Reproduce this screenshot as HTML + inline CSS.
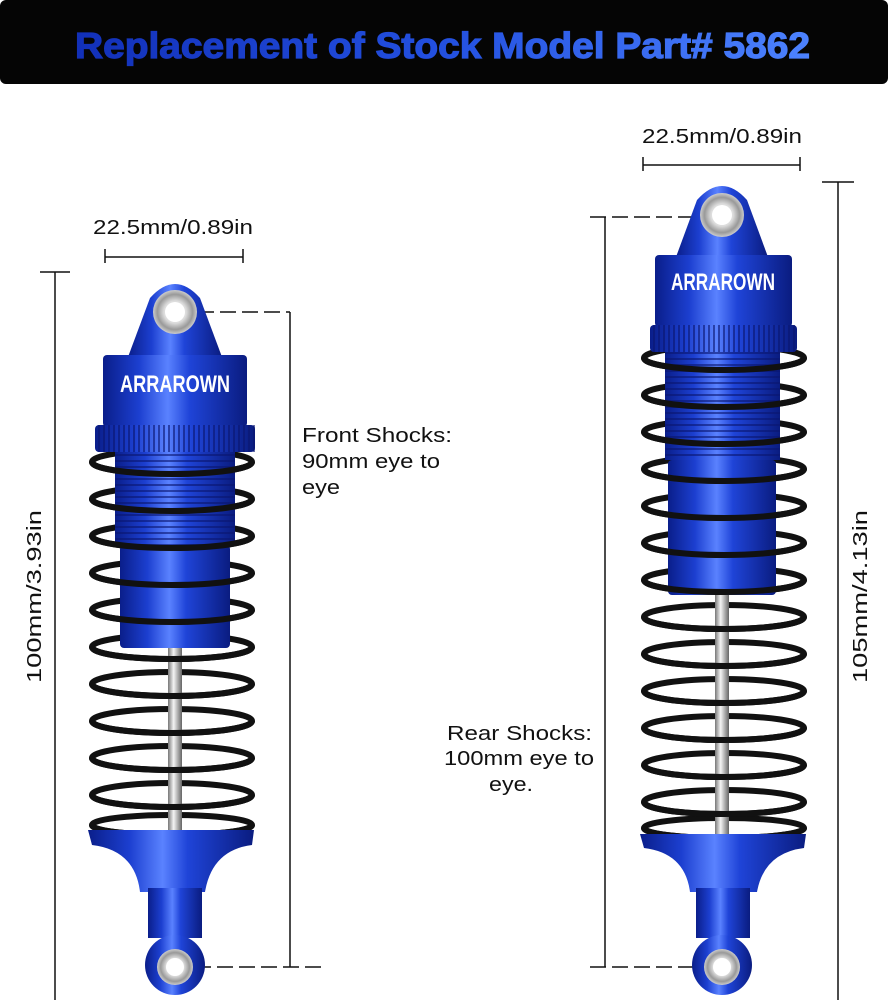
<!DOCTYPE html>
<html><head><meta charset="utf-8"><style>
html,body{margin:0;padding:0;background:#fff;}
svg{display:block;}
text{font-family:"Liberation Sans",sans-serif;}
</style></head><body>
<svg width="888" height="1000" viewBox="0 0 888 1000" xmlns="http://www.w3.org/2000/svg">
<defs>
<linearGradient id="hdr" x1="0" x2="1"><stop offset="0" stop-color="#1230b8"/><stop offset="0.5" stop-color="#2350e0"/><stop offset="1" stop-color="#4c82ff"/></linearGradient>
<linearGradient id="blu" x1="0" x2="1"><stop offset="0" stop-color="#0a1e8a"/><stop offset="0.25" stop-color="#1c3fd0"/><stop offset="0.45" stop-color="#5a82ff"/><stop offset="0.6" stop-color="#1f44d8"/><stop offset="1" stop-color="#0a1c80"/></linearGradient>
<linearGradient id="rod" x1="0" x2="1"><stop offset="0" stop-color="#777"/><stop offset="0.4" stop-color="#f4f4f4"/><stop offset="1" stop-color="#666"/></linearGradient>
<radialGradient id="sil"><stop offset="0.5" stop-color="#ddd"/><stop offset="0.8" stop-color="#999"/><stop offset="1" stop-color="#ccc"/></radialGradient>
<pattern id="thr" width="6" height="6" patternUnits="userSpaceOnUse"><rect y="4" width="6" height="2" fill="#0a1570" opacity="0.6"/></pattern>
<pattern id="knl" width="5" height="5" patternUnits="userSpaceOnUse"><rect x="3" width="2" height="5" fill="#0a1570" opacity="0.6"/></pattern>
</defs>
<rect x="0" y="0" width="888" height="84" rx="6" fill="#050505"/>
<text x="75" y="58" font-size="36" font-weight="bold" fill="url(#hdr)" stroke="url(#hdr)" stroke-width="1.2" textLength="735" lengthAdjust="spacingAndGlyphs">Replacement of Stock Model Part# 5862</text>

<!-- LEFT dims -->
<g stroke="#111" stroke-width="1.5" fill="none">
<line x1="105" y1="257" x2="243" y2="257"/><line x1="105" y1="249" x2="105" y2="263"/><line x1="243" y1="249" x2="243" y2="263"/>
<line x1="55" y1="272" x2="55" y2="1000"/><line x1="40" y1="272" x2="70" y2="272"/>
<line x1="290" y1="312" x2="290" y2="967"/>
<line x1="198" y1="312" x2="290" y2="312" stroke-dasharray="16,6"/>
<line x1="195" y1="967" x2="325" y2="967" stroke-dasharray="16,6"/>
</g>
<text x="93" y="234" font-size="20" fill="#111" textLength="160" lengthAdjust="spacingAndGlyphs">22.5mm/0.89in</text>
<text transform="translate(41,683) rotate(-90)" font-size="20" fill="#111" textLength="173" lengthAdjust="spacingAndGlyphs">100mm/3.93in</text>
<text x="302" y="442" font-size="20" fill="#111" textLength="150" lengthAdjust="spacingAndGlyphs">Front Shocks:</text>
<text x="302" y="468" font-size="20" fill="#111" textLength="138" lengthAdjust="spacingAndGlyphs">90mm eye to</text>
<text x="302" y="494" font-size="20" fill="#111" textLength="38" lengthAdjust="spacingAndGlyphs">eye</text>

<!-- RIGHT dims -->
<g stroke="#111" stroke-width="1.5" fill="none">
<line x1="643" y1="165" x2="800" y2="165"/><line x1="643" y1="157" x2="643" y2="171"/><line x1="800" y1="157" x2="800" y2="171"/>
<line x1="838" y1="182" x2="838" y2="1000"/><line x1="822" y1="182" x2="854" y2="182"/>
<line x1="605" y1="217" x2="605" y2="967"/>
<line x1="590" y1="217" x2="700" y2="217" stroke-dasharray="16,6"/>
<line x1="590" y1="967" x2="700" y2="967" stroke-dasharray="16,6"/>
</g>
<text x="642" y="143" font-size="20" fill="#111" textLength="160" lengthAdjust="spacingAndGlyphs">22.5mm/0.89in</text>
<text transform="translate(867,683) rotate(-90)" font-size="20" fill="#111" textLength="173" lengthAdjust="spacingAndGlyphs">105mm/4.13in</text>
<text x="447" y="740" font-size="20" fill="#111" textLength="145" lengthAdjust="spacingAndGlyphs">Rear Shocks:</text>
<text x="444" y="765" font-size="20" fill="#111" textLength="150" lengthAdjust="spacingAndGlyphs">100mm eye to</text>
<text x="489" y="791" font-size="20" fill="#111" textLength="44" lengthAdjust="spacingAndGlyphs">eye.</text>

<!-- LEFT SHOCK -->
<g>
<g fill="none" stroke="#111" stroke-width="6">
<ellipse cx="172" cy="462" rx="80" ry="12"/><ellipse cx="172" cy="499" rx="80" ry="12"/><ellipse cx="172" cy="536" rx="80" ry="12"/><ellipse cx="172" cy="573" rx="80" ry="12"/><ellipse cx="172" cy="610" rx="80" ry="12"/><ellipse cx="172" cy="647" rx="80" ry="12"/><ellipse cx="172" cy="684" rx="80" ry="12"/><ellipse cx="172" cy="721" rx="80" ry="12"/><ellipse cx="172" cy="758" rx="80" ry="12"/><ellipse cx="172" cy="795" rx="80" ry="12"/><ellipse cx="172" cy="825" rx="80" ry="10"/>
</g>
<rect x="168" y="645" width="14" height="195" fill="url(#rod)"/>
<rect x="115" y="450" width="120" height="95" fill="url(#blu)"/><rect x="115" y="450" width="120" height="95" fill="url(#thr)"/>
<rect x="120" y="545" width="110" height="103" rx="4" fill="url(#blu)"/>
<path d="M128,357 L150,298 Q175,270 200,298 L222,357 Z" fill="url(#blu)"/>
<circle cx="175" cy="312" r="22" fill="url(#sil)"/><circle cx="175" cy="312" r="10" fill="#fff"/>
<rect x="103" y="355" width="144" height="72" rx="4" fill="url(#blu)"/>
<text x="175" y="392" text-anchor="middle" font-size="24" font-weight="bold" fill="#fff" textLength="110" lengthAdjust="spacingAndGlyphs">ARRAROWN</text>
<rect x="95" y="425" width="160" height="27" rx="4" fill="url(#blu)"/><rect x="95" y="425" width="160" height="27" fill="url(#knl)"/>
<g fill="none" stroke="#111" stroke-width="6">
<path d="M92,462 A80,12 0 0 0 252,462"/><path d="M92,499 A80,12 0 0 0 252,499"/><path d="M92,536 A80,12 0 0 0 252,536"/><path d="M92,573 A80,12 0 0 0 252,573"/><path d="M92,610 A80,12 0 0 0 252,610"/><path d="M92,647 A80,12 0 0 0 252,647"/><path d="M92,684 A80,12 0 0 0 252,684"/><path d="M92,721 A80,12 0 0 0 252,721"/><path d="M92,758 A80,12 0 0 0 252,758"/><path d="M92,795 A80,12 0 0 0 252,795"/><path d="M92,825 A80,10 0 0 0 252,825"/>
</g>
<path d="M88,830 L254,830 L252,845 Q212,850 205,892 L140,892 Q135,850 92,845 Z" fill="url(#blu)"/>
<rect x="148" y="888" width="54" height="50" fill="url(#blu)"/>
<circle cx="175" cy="965" r="30" fill="url(#blu)"/>
<circle cx="175" cy="967" r="18" fill="url(#sil)"/><circle cx="175" cy="967" r="9" fill="#fff"/>
</g>

<!-- RIGHT SHOCK -->
<g>
<g fill="none" stroke="#111" stroke-width="6">
<ellipse cx="724" cy="358" rx="80" ry="12"/><ellipse cx="724" cy="395" rx="80" ry="12"/><ellipse cx="724" cy="432" rx="80" ry="12"/><ellipse cx="724" cy="469" rx="80" ry="12"/><ellipse cx="724" cy="506" rx="80" ry="12"/><ellipse cx="724" cy="543" rx="80" ry="12"/><ellipse cx="724" cy="580" rx="80" ry="12"/><ellipse cx="724" cy="617" rx="80" ry="12"/><ellipse cx="724" cy="654" rx="80" ry="12"/><ellipse cx="724" cy="691" rx="80" ry="12"/><ellipse cx="724" cy="728" rx="80" ry="12"/><ellipse cx="724" cy="765" rx="80" ry="12"/><ellipse cx="724" cy="802" rx="80" ry="12"/><ellipse cx="724" cy="828" rx="80" ry="10"/>
</g>
<rect x="715" y="592" width="14" height="245" fill="url(#rod)"/>
<rect x="665" y="350" width="115" height="110" fill="url(#blu)"/><rect x="665" y="350" width="115" height="110" fill="url(#thr)"/>
<rect x="668" y="460" width="108" height="135" rx="4" fill="url(#blu)"/>
<path d="M676,257 L697,200 Q722,172 747,200 L768,257 Z" fill="url(#blu)"/>
<circle cx="722" cy="215" r="22" fill="url(#sil)"/><circle cx="722" cy="215" r="10" fill="#fff"/>
<rect x="655" y="255" width="137" height="72" rx="4" fill="url(#blu)"/>
<text x="723" y="290" text-anchor="middle" font-size="24" font-weight="bold" fill="#fff" textLength="104" lengthAdjust="spacingAndGlyphs">ARRAROWN</text>
<rect x="650" y="325" width="147" height="27" rx="4" fill="url(#blu)"/><rect x="650" y="325" width="147" height="27" fill="url(#knl)"/>
<g fill="none" stroke="#111" stroke-width="6">
<path d="M644,358 A80,12 0 0 0 804,358"/><path d="M644,395 A80,12 0 0 0 804,395"/><path d="M644,432 A80,12 0 0 0 804,432"/><path d="M644,469 A80,12 0 0 0 804,469"/><path d="M644,506 A80,12 0 0 0 804,506"/><path d="M644,543 A80,12 0 0 0 804,543"/><path d="M644,580 A80,12 0 0 0 804,580"/><path d="M644,617 A80,12 0 0 0 804,617"/><path d="M644,654 A80,12 0 0 0 804,654"/><path d="M644,691 A80,12 0 0 0 804,691"/><path d="M644,728 A80,12 0 0 0 804,728"/><path d="M644,765 A80,12 0 0 0 804,765"/><path d="M644,802 A80,12 0 0 0 804,802"/><path d="M644,828 A80,10 0 0 0 804,828"/>
</g>
<path d="M640,834 L806,834 L804,848 Q764,853 757,892 L690,892 Q685,853 644,848 Z" fill="url(#blu)"/>
<rect x="696" y="888" width="54" height="50" fill="url(#blu)"/>
<circle cx="722" cy="965" r="30" fill="url(#blu)"/>
<circle cx="722" cy="967" r="18" fill="url(#sil)"/><circle cx="722" cy="967" r="9" fill="#fff"/>
</g>
</svg>
</body></html>
